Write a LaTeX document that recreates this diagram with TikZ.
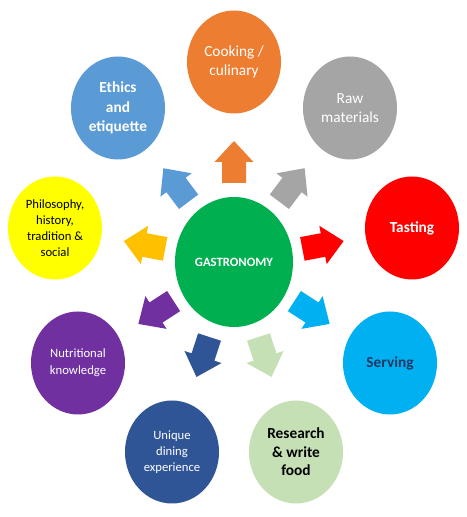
\documentclass[tikz,border=0pt]{standalone}
\usepackage{fontspec}
\setmainfont{Carlito}
\usetikzlibrary{shapes.geometric}
\definecolor{cOrange}{HTML}{ED7D31}
\definecolor{cEthics}{HTML}{5B9BD5}
\definecolor{cGray}{HTML}{A5A5A5}
\definecolor{cRed}{HTML}{FF0000}
\definecolor{cYellow}{HTML}{FFFF00}
\definecolor{cGold}{HTML}{FFC000}
\definecolor{cPurple}{HTML}{7030A0}
\definecolor{cSky}{HTML}{00B0F0}
\definecolor{cNavy}{HTML}{2F5597}
\definecolor{cPale}{HTML}{C5E0B4}
\definecolor{cGreen}{HTML}{00B050}
\definecolor{cDarkText}{HTML}{1F3864}
\begin{document}
\begin{tikzpicture}[x=0.75pt,y=0.75pt,
  bub/.style={ellipse, minimum width=70.5pt, minimum height=77.25pt, inner sep=0pt, align=center, text=white},
  big/.style={font=\fontsize{11.5}{14.5}\selectfont},
  small/.style={font=\fontsize{9.5}{12}\selectfont},
  blockarrow/.pic={\fill[#1] (-21,-12) -- (0,-12) -- (0,-19.5) -- (21,0) -- (0,19.5) -- (0,12) -- (-21,12) -- cycle;}
]
\useasboundingbox[fill=white] (0,0) rectangle (467,517);

\node[bub, fill=cGreen, minimum width=88.5pt, minimum height=97.5pt, font=\fontsize{9.5}{12}\selectfont\bfseries] (g) at (234,255) {GASTRONOMY};

\node[bub, big, fill=cOrange] (cook) at (234,455) {Cooking /\\culinary};
\node[bub, big, fill=cEthics, font=\fontsize{11.5}{14.5}\selectfont\bfseries] (eth) at (118,409) {Ethics\\and\\etiquette};
\node[bub, big, fill=cGray] (raw) at (350,409) {Raw\\materials};
\node[bub, small, fill=cYellow, text=black] (phil) at (55,289) {Philosophy,\\history,\\tradition \&\\social};
\node[bub, fill=cRed, font=\fontsize{11.5}{14.5}\selectfont\bfseries] (tast) at (412,289) {Tasting};
\node[bub, fill=cPurple, font=\fontsize{9.5}{12.5}\selectfont] (nutr) at (78,154) {Nutritional\\knowledge};
\node[bub, fill=cSky, text=cDarkText, font=\fontsize{11.5}{14.5}\selectfont\bfseries] (serv) at (390,154) {Serving};
\node[bub, fill=cNavy, font=\fontsize{9.5}{12}\selectfont] (uniq) at (172,65) {Unique\\dining\\experience};
\node[bub, fill=cPale, text=black, font=\fontsize{11.5}{14}\selectfont\bfseries] (res) at (296,65) {Research\\\& write\\food};

\path (g.center) -- (cook.center) pic[pos=0.5, sloped, allow upside down] {blockarrow=cOrange};
\path (g.center) -- (eth.center) pic[pos=0.5, sloped, allow upside down] {blockarrow=cEthics};
\path (g.center) -- (raw.center) pic[pos=0.5, sloped, allow upside down] {blockarrow=cGray};
\path (g.center) -- (phil.center) pic[pos=0.5, sloped, allow upside down] {blockarrow=cGold};
\path (g.center) -- (tast.center) pic[pos=0.5, sloped, allow upside down] {blockarrow=cRed};
\path (g.center) -- (nutr.center) pic[pos=0.5, sloped, allow upside down] {blockarrow=cPurple};
\path (g.center) -- (serv.center) pic[pos=0.5, sloped, allow upside down] {blockarrow=cSky};
\path (g.center) -- (uniq.center) pic[pos=0.5, sloped, allow upside down] {blockarrow=cNavy};
\path (g.center) -- (res.center) pic[pos=0.5, sloped, allow upside down] {blockarrow=cPale};
\end{tikzpicture}
\end{document}
